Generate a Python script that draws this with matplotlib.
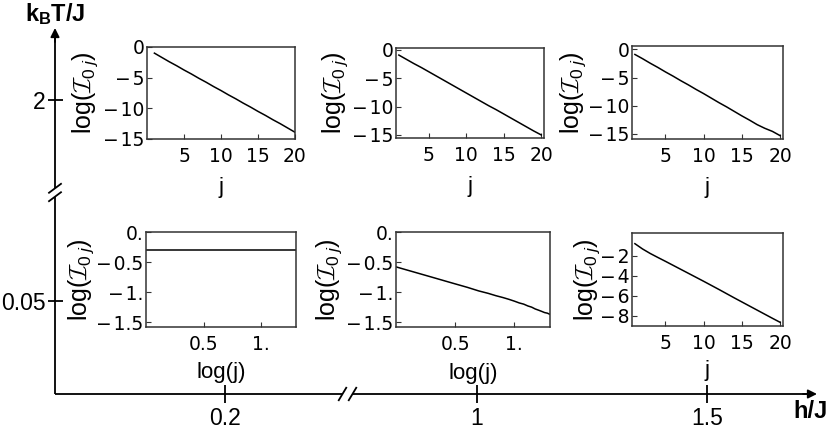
import numpy as np
import matplotlib
matplotlib.use("Agg")
import matplotlib.pyplot as plt
from matplotlib.ticker import FixedLocator, FuncFormatter

plt.rcParams['font.family'] = ['DejaVu Sans']
plt.rcParams['mathtext.fontset'] = 'custom'
plt.rcParams['mathtext.rm'] = 'Liberation Sans'
plt.rcParams['mathtext.it'] = 'Liberation Sans:italic'
plt.rcParams['mathtext.bf'] = 'Liberation Sans:bold'
plt.rcParams['mathtext.cal'] = 'cmsy10'

# ---------------- data ----------------
j = np.arange(1, 21)
T_labels = ['0.05', '2']
h_labels = ['0.2', '1', '1.5']

logI_T2_h02 = [-1.0, -1.7, -2.4, -3.05, -3.75, -4.4, -5.1, -5.75, -6.45, -7.1,
               -7.8, -8.45, -9.15, -9.8, -10.5, -11.15, -11.85, -12.5, -13.2, -13.9]
logI_T2_h1 = [-0.9, -1.65, -2.4, -3.1, -3.85, -4.6, -5.35, -6.1, -6.85, -7.6,
              -8.35, -9.1, -9.85, -10.55, -11.3, -12.05, -12.8, -13.55, -14.3, -15.0]
logI_T2_h15 = [-0.9, -1.65, -2.45, -3.2, -4.0, -4.75, -5.55, -6.3, -7.1, -7.85,
               -8.65, -9.45, -10.2, -11.0, -11.8, -12.55, -13.35, -14.0, -14.55, -15.3]
logI_T005_h02 = [-0.30, -0.30, -0.30, -0.30, -0.30, -0.30, -0.30, -0.30, -0.30, -0.30,
                 -0.30, -0.30, -0.30, -0.30, -0.30, -0.30, -0.30, -0.30, -0.30, -0.30]
logI_T005_h1 = [-0.58, -0.75, -0.85, -0.92, -0.98, -1.02, -1.06, -1.09, -1.12, -1.15,
                -1.18, -1.20, -1.23, -1.25, -1.28, -1.30, -1.32, -1.34, -1.35, -1.37]
logI_T005_h15 = [-0.77, -1.3, -1.75, -2.15, -2.54, -2.94, -3.34, -3.74, -4.14, -4.54,
                 -4.95, -5.36, -5.78, -6.2, -6.61, -7.02, -7.43, -7.84, -8.25, -8.65]

top_xticks = [5, 10, 15, 20]
top_yticks = [0, -5, -10, -15]
log_xticks = [0.5, 1.0]
log_yticks = [0.0, -0.5, -1.0, -1.5]
br_yticks = [-2, -4, -6, -8]

# ---------------- layout ----------------
W, H = 830, 437
fig = plt.figure(figsize=(W / 100, H / 100), dpi=100)


def rect(x0, y0, x1, y1):
    return [x0 / W, 1 - y1 / H, (x1 - x0) / W, (y1 - y0) / H]


# outer (broken) axes
AX_L, AX_R, AX_B, AX_T = 55, 817, 394, 28
ax0 = fig.add_axes(rect(AX_L, AX_T, AX_R, AX_B))
ax0.set_xlim(0, AX_R - AX_L)
ax0.set_ylim(0, AX_B - AX_T)
ax0.patch.set_visible(False)
for s in ax0.spines.values():
    s.set_visible(False)
ax0.set_xticks([225 - AX_L, 477 - AX_L, 707 - AX_L], h_labels)
ax0.set_yticks([AX_B - 300.7, AX_B - 100], T_labels)
ax0.tick_params(axis='x', direction='inout', length=13, width=1.3, labelsize=16.5, pad=3.0)
ax0.tick_params(axis='y', direction='inout', length=10.8, width=1.3, labelsize=16.5, pad=1.2)
for t in ax0.get_xticklabels() + ax0.get_yticklabels():
    t.set_family('Liberation Sans')

lk = dict(color='k', lw=1.3, clip_on=False, solid_capstyle='butt')
xb1, xb2 = 287.5, 297.5
yb1, yb2 = 197.3, 205.7
ax0.plot([0, xb1], [0, 0], **lk)
ax0.plot([xb2, AX_R - AX_L - 5], [0, 0], **lk)
ax0.plot([0, 0], [0, yb1], **lk)
ax0.plot([0, 0], [yb2, AX_B - AX_T - 5], **lk)
for xc in (xb1, xb2):
    ax0.plot([xc - 4.2, xc + 4.2], [-7, 7], **lk)
for yc in (yb1, yb2):
    ax0.plot([-6.7, 6.7], [yc - 5, yc + 5], **lk)
ap = dict(arrowstyle='-|>', color='k', lw=1.3, mutation_scale=13, shrinkA=0, shrinkB=0)
ax0.annotate('', xy=(AX_R - AX_L, 0), xytext=(AX_R - AX_L - 14, 0), arrowprops=ap,
             annotation_clip=False)
ax0.annotate('', xy=(0, AX_B - AX_T), xytext=(0, AX_B - AX_T - 14), arrowprops=ap,
             annotation_clip=False)

fig.text(55 / W, 1 - 14 / H, r'$\mathbf{k_B T/J}$', ha='center', va='center', fontsize=17)
fig.text(810 / W, 1 - 411 / H, 'h/J', ha='center', va='center', fontsize=17,
         fontweight='bold', family='Liberation Sans')


def mma_log(v, pos):
    s = f'{v:g}'
    if '.' not in s:
        s += '.'
    return s.replace('-', '\u2212\u200a')


def mma_int(v, pos):
    return f'{v:g}'.replace('-', '\u2212\u200a')


ylab = r'log($\mathcal{I}_{\mathit{0}\;j}$)'
frame_c = '#333333'


def panel(box, x, y, xlim, ylim, xticks, yticks, xlabel, xoff, yoff, logfmt=False):
    ax = fig.add_axes(rect(*box))
    ax.plot(x, y, color='k', lw=1.1)
    ax.set_xlim(*xlim)
    ax.set_ylim(*ylim)
    ax.xaxis.set_major_locator(FixedLocator(xticks))
    ax.yaxis.set_major_locator(FixedLocator(yticks))
    fmt = FuncFormatter(mma_log if logfmt else mma_int)
    ax.xaxis.set_major_formatter(fmt)
    ax.yaxis.set_major_formatter(fmt)
    for s in ax.spines.values():
        s.set_color(frame_c)
        s.set_linewidth(1.1)
    ax.tick_params(direction='in', length=3.5, width=0.8, color=frame_c,
                   labelsize=13.5, top=False, right=False)
    ax.tick_params(axis='x', pad=5.5)
    ax.tick_params(axis='y', pad=2.0)
    wpx = box[2] - box[0]
    hpx = box[3] - box[1]
    ax.set_xlabel(xlabel, fontsize=16, family='Liberation Sans', va='center')
    ax.xaxis.set_label_coords(0.5, -xoff / hpx)
    ax.set_ylabel(ylab, fontsize=18, family='Liberation Sans', va='center')
    ax.yaxis.set_label_coords(-yoff / wpx, 0.5)
    return ax


lj = np.log10(j)
panel((147, 47, 295, 139), j, logI_T2_h02, (0, 20), (-15, 0),
      top_xticks, top_yticks, 'j', 49, 62)
panel((396, 47.7, 544, 138.3), j, logI_T2_h1, (0.62, 20.38), (-15.6, 0.4),
      top_xticks, top_yticks, 'j', 48, 61)
panel((632, 46, 783, 139.3), j, logI_T2_h15, (0.62, 20.38), (-15.95, 0.6),
      top_xticks, top_yticks, 'j', 48, 59)
panel((146, 232, 296, 327), lj, logI_T005_h02, (0, np.log10(20)), (-1.58, 0),
      log_xticks, log_yticks, 'log(j)', 45.5, 65, logfmt=True)
panel((396, 232, 550, 327), lj, logI_T005_h1, (0, np.log10(20)), (-1.58, 0),
      log_xticks, log_yticks, 'log(j)', 47, 67, logfmt=True)
panel((632, 233, 783, 326.3), j, logI_T005_h15, (0.62, 20.38), (-9.05, 0.3),
      top_xticks, br_yticks, 'j', 44, 45)

fig.savefig('out.png', dpi=100)
